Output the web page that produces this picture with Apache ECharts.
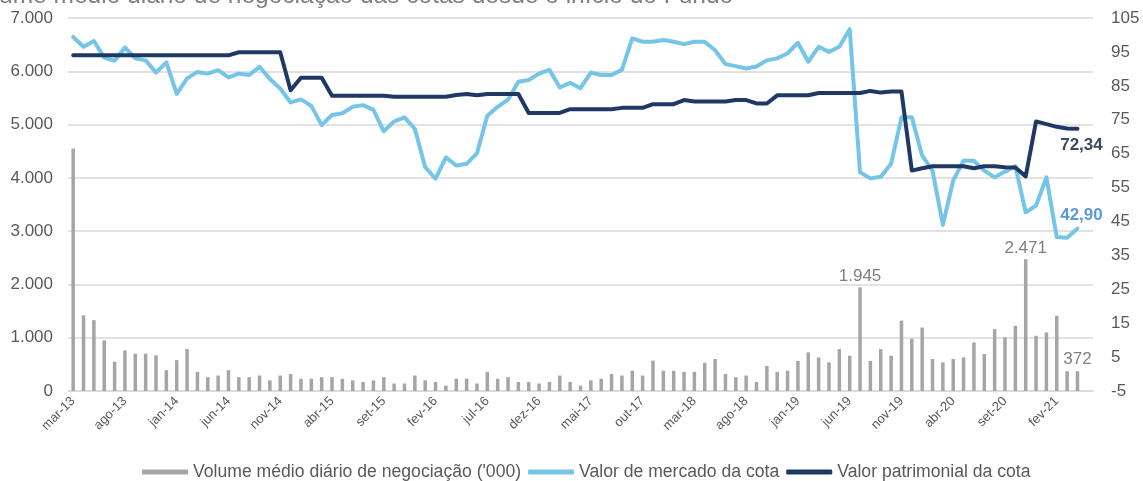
<!DOCTYPE html>
<html>
<head>
<meta charset="utf-8">
<script src="https://cdn.jsdelivr.net/npm/echarts@6/dist/echarts.min.js"></script>
<style>
  html, body { margin: 0; padding: 0; background: #fff; }
  #chart { width: 1143px; height: 481px; }
</style>
</head>
<body>
<div id="chart"></div>
<script>
// months mar-13 .. mai-21 (last one has no data)
const monthNames = ['jan', 'fev', 'mar', 'abr', 'mai', 'jun', 'jul', 'ago', 'set', 'out', 'nov', 'dez'];
const categories = [];
for (let i = 0; i < 99; i++) {
    const m = (2 + i) % 12;
    const y = 13 + Math.floor((2 + i) / 12);
    categories.push(monthNames[m] + '-' + y);
}

// Volume médio diário de negociação ('000)
const volume = [
    4550, 1420, 1330, 950, 550, 760, 700, 700, 670, 390,
    580, 790, 360, 260, 290, 390, 260, 260, 290, 200,
    290, 320, 230, 230, 260, 260, 230, 200, 170, 200,
    260, 140, 140, 290, 200, 170, 100, 230, 230, 140,
    360, 230, 260, 170, 170, 140, 170, 290, 170, 100,
    200, 230, 320, 290, 380, 290, 570, 380, 380, 360,
    360, 530, 600, 320, 260, 290, 170, 470, 360, 380,
    565, 725, 630, 537, 787, 662, 1945, 565, 787, 662,
    1320, 980, 1190, 600, 537, 600, 630, 911, 693, 1161,
    1005, 1223, 2471, 1036, 1099, 1411, 372, 372, null
];

// Valor de mercado da cota
const marketValue = [
    99.4, 96.5, 98.2, 93.3, 92.4, 96.3, 93.1, 92.5, 88.9, 91.9,
    82.6, 87.2, 89.1, 88.6, 89.6, 87.5, 88.6, 88.2, 90.6, 87.0,
    84.2, 80.1, 81.0, 79.1, 73.4, 76.4, 76.9, 78.8, 79.3, 77.9,
    71.6, 74.5, 75.7, 72.3, 61.0, 57.6, 63.9, 61.5, 62.0, 65.1,
    76.2, 78.8, 80.9, 86.2, 86.7, 88.6, 89.7, 84.5, 85.9, 84.3,
    88.9, 88.2, 88.2, 89.7, 99.0, 98.0, 98.0, 98.5, 98.0, 97.3,
    98.0, 98.0, 95.5, 91.4, 90.8, 90.1, 90.7, 92.5, 93.1, 94.6,
    97.7, 92.1, 96.5, 95.0, 96.5, 101.7, 59.5, 57.7, 58.2, 62.0,
    75.7, 75.7, 64.4, 60.0, 44.0, 57.1, 62.9, 62.9, 60.0, 58.0,
    59.7, 61.3, 47.7, 49.7, 58.0, 40.4, 40.2, 42.9, null
];

// Valor patrimonial da cota
const navValue = [
    94.0, 94.0, 94.0, 94.0, 94.0, 94.0, 94.0, 94.0, 94.0, 94.0,
    94.0, 94.0, 94.0, 94.0, 94.0, 94.0, 94.9, 94.9, 94.9, 94.9,
    94.9, 83.7, 87.4, 87.4, 87.4, 82.1, 82.1, 82.1, 82.1, 82.1,
    82.1, 81.8, 81.8, 81.8, 81.8, 81.8, 81.8, 82.3, 82.6, 82.2,
    82.6, 82.6, 82.6, 82.6, 77.0, 77.0, 77.0, 77.0, 78.1, 78.1,
    78.1, 78.1, 78.1, 78.5, 78.5, 78.5, 79.6, 79.6, 79.6, 80.8,
    80.4, 80.4, 80.4, 80.4, 80.8, 80.8, 79.8, 79.8, 82.2, 82.2,
    82.2, 82.2, 82.9, 82.9, 82.9, 82.9, 82.9, 83.5, 83.0, 83.3,
    83.3, 60.0, 60.7, 61.3, 61.3, 61.3, 61.3, 60.7, 61.3, 61.3,
    61.0, 60.9, 58.3, 74.5, 73.7, 72.9, 72.4, 72.34, null
];

const labeledBars = [76, 92, 97];

const thousands = (v) => String(Math.round(v)).replace(/\B(?=(\d{3})+(?!\d))/g, '.');
const decimalComma = (v) => Number(v).toFixed(2).replace('.', ',');

const chart = echarts.init(document.getElementById('chart'));

const barData = volume.map((v, i) => labeledBars.includes(i)
    ? { value: v, label: { show: true } }
    : v);

const option = {
    animation: false,
    textStyle: { fontFamily: 'Liberation Sans, Arial, sans-serif' },
    title: {
        text: 'Volume médio diário de negociação das cotas desde o início do Fundo ¹',
        left: -35,
        top: -16,
        padding: 0,
        textStyle: { fontSize: 24.5, fontWeight: 'normal', color: '#7f7f7f' }
    },
    grid: { left: 68, right: 50, top: 18, bottom: 90 },
    legend: {
        top: 458,
        left: 137,
        itemWidth: 46,
        itemHeight: 5,
        itemGap: 7,
        textStyle: { fontSize: 17.6, color: '#595959' },
        data: [
            { name: "Volume médio diário de negociação ('000)", icon: 'rect' },
            { name: 'Valor de mercado da cota', icon: 'roundRect' },
            { name: 'Valor patrimonial da cota', icon: 'roundRect' }
        ]
    },
    xAxis: {
        type: 'category',
        data: categories,
        boundaryGap: true,
        axisTick: { show: false },
        axisLine: { lineStyle: { color: '#d9d9d9', width: 1.5 } },
        axisLabel: { interval: 4, rotate: 45, fontSize: 13, color: '#595959', margin: 8 }
    },
    yAxis: [
        {
            type: 'value',
            min: 0,
            max: 7000,
            interval: 1000,
            axisLine: { show: false },
            axisTick: { show: false },
            splitLine: { lineStyle: { color: '#d9d9d9', width: 1.5 } },
            axisLabel: { fontSize: 17, color: '#595959', margin: 15, formatter: thousands }
        },
        {
            type: 'value',
            min: -5,
            max: 105,
            interval: 10,
            axisLine: { show: false },
            axisTick: { show: false },
            splitLine: { show: false },
            axisLabel: { fontSize: 17, color: '#595959', margin: 18, align: 'left' }
        }
    ],
    series: [
        {
            name: "Volume médio diário de negociação ('000)",
            type: 'bar',
            data: barData,
            barWidth: 3.5,
            itemStyle: { color: '#a5a5a5' },
            label: {
                show: false,
                position: 'top',
                distance: 3,
                fontSize: 17,
                color: '#7f7f7f',
                formatter: (p) => thousands(p.value)
            }
        },
        {
            name: 'Valor de mercado da cota',
            type: 'line',
            yAxisIndex: 1,
            data: marketValue,
            showSymbol: false,
            symbol: 'none',
            color: '#75c5e8',
            lineStyle: { width: 4, color: '#75c5e8', cap: 'round', join: 'round' },
            endLabel: {
                show: true,
                distance: 0,
                align: 'center',
                verticalAlign: 'middle',
                offset: [4, -13],
                fontSize: 17,
                fontWeight: 'bold',
                color: '#5b9bd5',
                formatter: (p) => decimalComma(p.value)
            }
        },
        {
            name: 'Valor patrimonial da cota',
            type: 'line',
            yAxisIndex: 1,
            data: navValue,
            showSymbol: false,
            symbol: 'none',
            color: '#203864',
            lineStyle: { width: 4, color: '#203864', cap: 'round', join: 'round' },
            endLabel: {
                show: true,
                distance: 0,
                align: 'center',
                verticalAlign: 'middle',
                offset: [4, 17],
                fontSize: 17,
                fontWeight: 'bold',
                color: '#3b4a63',
                formatter: (p) => decimalComma(p.value)
            }
        }
    ]
};

chart.setOption(option);
</script>
</body>
</html>
